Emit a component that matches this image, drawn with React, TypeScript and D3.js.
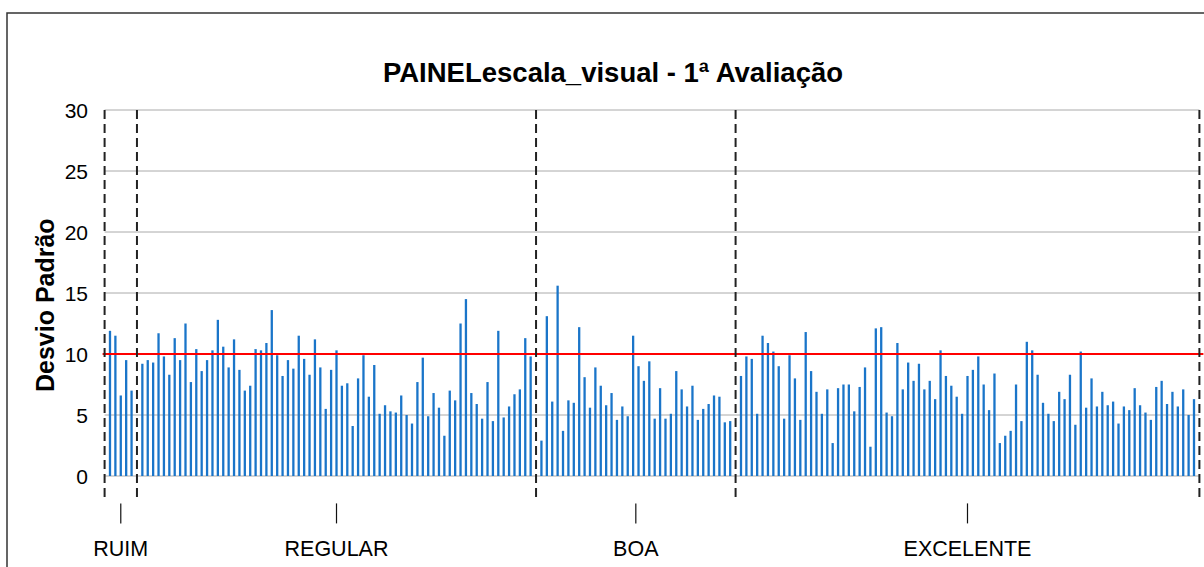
import React from "react";
import * as d3 from "d3";

const categories = ["RUIM", "REGULAR", "BOA", "EXCELENTE"];
const ruim = [11.9, 11.5, 6.6, 9.5, 7.0];
const regular = [
  9.2, 9.5, 9.3, 11.7, 9.8, 8.3, 11.3, 9.5, 12.5, 7.7, 10.4,
  8.6, 9.5, 10.3, 12.8, 10.6, 8.9, 11.2, 8.7, 7.0, 7.4, 10.4, 10.3, 10.9, 13.6, 9.9, 8.2, 9.5, 8.8, 11.5,
  9.6, 8.3, 11.2, 8.9, 5.5, 8.7, 10.3, 7.4, 7.6, 4.1, 8.0, 9.9, 6.5, 9.1, 5.1, 5.8, 5.3, 5.2,
  6.6, 5.0, 4.3, 7.7, 9.7, 4.9, 6.8, 5.6, 3.3, 7.0, 6.2, 12.5, 14.5, 6.8, 5.9, 4.7, 7.7, 4.5, 11.9,
  4.8, 5.7, 6.7, 7.1, 11.3, 9.8,
];
const boa = [
  2.9, 13.1, 6.1, 15.6, 3.7, 6.2, 6.0, 12.2, 8.1, 5.6, 8.9,
  7.4, 5.8, 6.8, 4.6, 5.7, 4.9, 11.5, 9.0, 7.8, 9.4, 4.7, 7.2, 4.7, 5.1, 8.6, 7.1, 5.7, 7.4, 4.6,
  5.5, 5.9, 6.6, 6.5, 4.4, 4.5,
];
const excelente = [
  8.2, 9.8, 9.6, 5.1, 11.5, 10.9, 10.2, 9.0, 4.7, 9.9, 8.0,
  4.6, 11.8, 8.6, 6.9, 5.1, 7.1, 2.7, 7.2, 7.5, 7.5, 5.3, 7.3, 8.9, 2.4, 12.1, 12.2, 5.2, 4.9, 10.9,
  7.1, 9.3, 7.8, 9.2, 7.1, 7.8, 6.3, 10.3, 8.2, 7.4, 6.5, 5.1, 8.2, 8.7, 9.8, 7.5, 5.4, 8.4, 2.7,
  3.3, 3.7, 7.5, 4.5, 11.0, 10.3, 8.3, 6.0, 5.1, 4.5, 6.9, 6.3, 8.3, 4.2, 10.2, 5.6, 8.0, 5.7,
  6.9, 5.8, 6.1, 4.3, 5.7, 5.4, 7.2, 5.8, 5.2, 4.6, 7.3, 7.8, 5.9, 6.9, 5.7, 7.1, 5.0, 6.3,
];
const groups = [ruim, regular, boa, excelente];
const yTicks = [0, 5, 10, 15, 20, 25, 30];
const refValue = 10;
const title = "PAINELescala_visual - 1ª Avaliação";
const yLabel = "Desvio Padrão";

export default function App() {
  const bars: { pos: number; v: number }[] = [];
  const dividers: number[] = [0];
  const centers: number[] = [];
  let pos = 0;
  groups.forEach((g) => {
    const start = pos + 1;
    g.forEach((v, i) => bars.push({ pos: start + i, v }));
    const end = start + g.length - 1;
    centers.push((start + end) / 2);
    pos = end + 1;
    dividers.push(pos);
  });
  const total = pos;

  const x = d3.scaleLinear().domain([0, total]).range([104.6, 1199.4]);
  const y = d3.scaleLinear().domain([0, 30]).range([476, 110]);
  const yBottom = y(-2);
  const font = "'Liberation Sans', Arial, sans-serif";

  return (
    <svg
      width={1204}
      height={567}
      style={{ position: "absolute", left: 0, top: 0, background: "#fff" }}
      fontFamily={font}
    >
      <rect x={7} y={13} width={1230} height={600} fill="#fff" stroke="#333" strokeWidth={1.5} />
      <text x={613} y={82} textAnchor="middle" fontSize={27.5} fontWeight="bold">
        {title}
      </text>
      <text
        transform={`translate(54,${(y(30) + yBottom) / 2}) rotate(-90)`}
        textAnchor="middle"
        fontSize={25}
        fontWeight="bold"
      >
        {yLabel}
      </text>
      {yTicks.map((t) => (
        <g key={t}>
          <line x1={x(0)} x2={x(total)} y1={y(t)} y2={y(t)} stroke="#aaa" strokeWidth={1} />
          <text x={88} y={y(t) + 7.5} textAnchor="end" fontSize={21}>
            {t}
          </text>
        </g>
      ))}
      {bars.map((b, i) => (
        <line
          key={i}
          x1={x(b.pos)}
          x2={x(b.pos)}
          y1={y(0)}
          y2={y(b.v)}
          stroke="#1a75c9"
          strokeWidth={2.3}
        />
      ))}
      <line x1={x(0) - 2} x2={x(total) + 4} y1={y(refValue)} y2={y(refValue)} stroke="#ff0000" strokeWidth={2} />
      {dividers.map((d, i) => (
        <line
          key={i}
          x1={x(d)}
          x2={x(d)}
          y1={y(30)}
          y2={yBottom}
          stroke="#222"
          strokeWidth={2}
          strokeDasharray="9,5"
        />
      ))}
      {categories.map((c, i) => (
        <g key={c}>
          <line x1={x(centers[i])} x2={x(centers[i])} y1={yBottom + 3} y2={yBottom + 23} stroke="#111" strokeWidth={1.2} />
          <text x={x(centers[i])} y={556} textAnchor="middle" fontSize={21.5}>
            {c}
          </text>
        </g>
      ))}
    </svg>
  );
}
